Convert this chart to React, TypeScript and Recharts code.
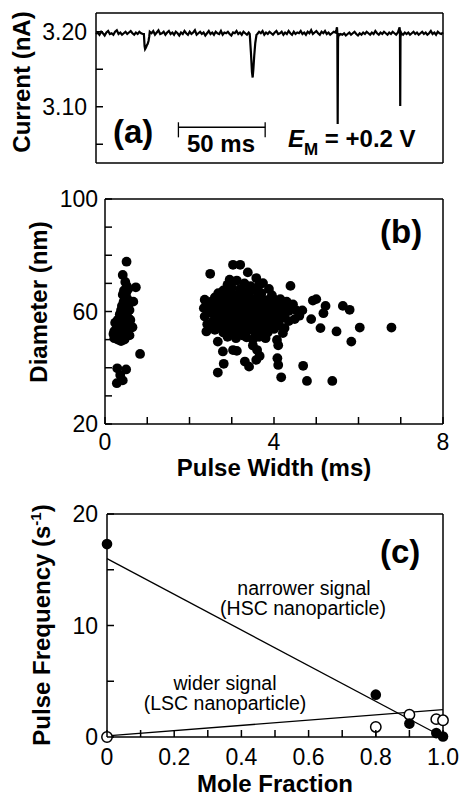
import React from 'react';
import { LineChart, Line, XAxis, YAxis, ScatterChart, Scatter, ReferenceLine, ErrorBar } from 'recharts';

const FONT = '"Liberation Sans", Arial, Helvetica, sans-serif';

// ---------- Panel (a): current trace ----------
const TRACE_BASE: number[] = [
  3.197, 3.199, 3.196, 3.200, 3.198, 3.195, 3.199, 3.201, 3.197, 3.198, 3.196, 3.200, 3.202, 3.197, 3.199, 3.196, 3.198, 3.200, 3.197, 3.199,
  3.201, 3.198, 3.196, 3.199, 3.197, 3.200, 3.198, 3.197, 3.196, 3.199, 3.197, 3.200, 3.198, 3.201, 3.196, 3.199, 3.202, 3.197, 3.198, 3.200,
  3.196, 3.199, 3.201, 3.197, 3.199, 3.196, 3.200, 3.198, 3.195, 3.199, 3.197, 3.201, 3.198, 3.196, 3.200, 3.197, 3.199, 3.202, 3.196, 3.198,
  3.200, 3.197, 3.199, 3.195, 3.198, 3.201, 3.197, 3.199, 3.196, 3.200, 3.198, 3.197, 3.201, 3.196, 3.199, 3.198, 3.200, 3.197, 3.195, 3.199,
  3.198, 3.201, 3.197, 3.199, 3.196, 3.200, 3.198, 3.196, 3.199, 3.197, 3.198, 3.196, 3.199, 3.197, 3.200, 3.198, 3.201, 3.196, 3.199, 3.197,
  3.200, 3.198, 3.196, 3.199, 3.201, 3.197, 3.198, 3.200, 3.196, 3.199, 3.197, 3.201, 3.198, 3.196, 3.200, 3.197, 3.199, 3.198, 3.201, 3.197,
  3.199, 3.196, 3.200, 3.198, 3.202, 3.197, 3.199, 3.201, 3.198, 3.196, 3.200, 3.198, 3.201, 3.197, 3.199, 3.196, 3.198, 3.200, 3.199, 3.197,
  3.195, 3.197, 3.196, 3.198, 3.195, 3.197, 3.199, 3.196, 3.198, 3.200, 3.197, 3.195, 3.198, 3.196, 3.199, 3.197, 3.200, 3.198, 3.196, 3.199,
  3.197, 3.201, 3.198, 3.196, 3.199, 3.197, 3.200, 3.198, 3.196, 3.199, 3.197, 3.200, 3.198, 3.196, 3.199, 3.197, 3.198, 3.196, 3.199, 3.197,
  3.199, 3.196, 3.198, 3.200, 3.197, 3.199, 3.196, 3.198, 3.200, 3.197, 3.199, 3.196, 3.198, 3.201, 3.197, 3.199, 3.196, 3.200, 3.198, 3.197, 3.199,
];
const EVENT_WINDOWS: [number, number][] = [[27.5, 31], [88.5, 93], [138.5, 140], [174.5, 176]];
const EVENT_POINTS: [number, number][] = [
  [27.6, 3.197], [28.0, 3.181], [28.3, 3.177], [28.8, 3.179], [29.3, 3.182], [29.8, 3.184], [30.3, 3.188], [30.7, 3.194],
  [88.6, 3.197], [89.3, 3.172], [89.9, 3.146], [90.3, 3.139], [90.7, 3.150], [91.2, 3.168], [91.8, 3.185], [92.5, 3.196],
  [138.6, 3.203], [138.9, 3.206], [139.1, 3.198], [139.3, 3.077], [139.5, 3.190], [139.8, 3.198],
  [174.7, 3.204], [175.0, 3.206], [175.2, 3.198], [175.35, 3.101], [175.5, 3.192], [175.8, 3.199],
];
const traceData = [
  ...TRACE_BASE.map((i, t) => ({ t, i })).filter((p) => !EVENT_WINDOWS.some(([a, b]) => p.t > a && p.t < b)),
  ...EVENT_POINTS.map(([t, i]) => ({ t, i })),
].sort((a, b) => a.t - b.t);

const A_X_DOMAIN: [number, number] = [0, 200];
const A_Y_DOMAIN: [number, number] = [3.025, 3.225];
const A_Y_TICKS = [3.05, 3.1, 3.15, 3.2];
const A_Y_LABELS = [{ v: 3.1, s: '3.10' }, { v: 3.2, s: '3.20' }];
const SCALE_BAR_T = [47.5, 97.5];
const SCALE_BAR_I = [3.0727, 3.0793, 3.0592]; // bar level, cap top, cap bottom

// ---------- Panel (b): diameter vs pulse width ----------
const leftCluster: [number, number][] = [
  [0.51, 77.7], [0.42, 73.0], [0.73, 68.6], [0.48, 70.5], [0.52, 69.0], [0.45, 67.5], [0.55, 68.0], [0.50, 66.5], [0.42, 66.0],
  [0.47, 65.0], [0.53, 64.5], [0.67, 63.5], [0.44, 63.5], [0.50, 63.0], [0.40, 62.0], [0.47, 61.5], [0.55, 62.0], [0.38, 60.5],
  [0.45, 60.0], [0.52, 59.5], [0.58, 60.5], [0.35, 59.0], [0.42, 58.5], [0.50, 58.0], [0.56, 57.5], [0.30, 57.0], [0.38, 56.5],
  [0.46, 56.0], [0.53, 56.0], [0.28, 55.5], [0.35, 55.0], [0.42, 54.5], [0.49, 54.5], [0.65, 54.4], [0.57, 54.0], [0.27, 53.5],
  [0.33, 53.0], [0.40, 52.5], [0.47, 52.5], [0.55, 53.0], [0.28, 51.5], [0.35, 51.0], [0.43, 51.0], [0.30, 50.0], [0.38, 49.5],
  [0.46, 50.0], [0.22, 50.5], [0.22, 53.0], [0.24, 56.0], [0.20, 52.0], [0.60, 57.0], [0.58, 51.5],
  [0.83, 44.9], [0.29, 39.8], [0.50, 39.4], [0.36, 37.4], [0.28, 34.5], [0.42, 35.5],
];
const mainCluster: [number, number][] = [
  [2.8, 67.5], [3.0, 68.5], [3.2, 68.0], [3.35, 67.0], [3.55, 67.5], [2.95, 71.3], [3.12, 71.0], [3.03, 76.6], [3.2, 76.6], [2.49, 73.4],
  [3.38, 73.9], [3.58, 71.9], [3.74, 70.1], [3.88, 68.0], [4.39, 69.1], [3.3, 70.0], [2.9, 69.5], [3.45, 69.0], [3.65, 69.5],
  [2.6, 65.0], [2.75, 64.5], [2.9, 65.5], [3.05, 64.8], [3.25, 65.2], [3.45, 64.5], [3.6, 65.0], [3.8, 64.0], [4.0, 64.3], [4.15, 64.4], [2.36, 64.2], [4.3, 63.5],
  [2.68, 66.5], [2.98, 66.8], [3.15, 66.2], [3.4, 66.3], [3.7, 66.5], [3.95, 65.8],
  [2.45, 62.0], [2.6, 62.5], [2.8, 61.8], [2.95, 62.8], [3.1, 62.0], [3.25, 62.5], [3.4, 61.5], [3.55, 62.5], [3.7, 61.8], [3.85, 62.3], [4.0, 61.5], [4.2, 62.0], [4.4, 61.8], [2.34, 61.2],
  [2.52, 63.5], [2.72, 63.2], [2.88, 63.7], [3.02, 63.3], [3.18, 63.8], [3.33, 63.4], [3.5, 63.6], [3.65, 63.3], [3.92, 63.2], [4.1, 62.9],
  [2.5, 59.5], [2.65, 58.5], [2.8, 59.8], [2.95, 58.7], [3.1, 59.5], [3.3, 58.5], [3.45, 59.8], [3.6, 58.8], [3.75, 59.5], [3.9, 58.5], [4.05, 59.5], [4.25, 58.8], [4.53, 60.4], [4.67, 60.4], [2.36, 58.2],
  [2.58, 60.8], [2.73, 60.5], [2.88, 61.0], [3.03, 60.6], [3.18, 60.9], [3.36, 60.3], [3.52, 60.8], [3.68, 60.4], [3.83, 60.8], [3.98, 60.3], [4.15, 60.6], [4.35, 60.2],
  [2.55, 56.5], [2.7, 55.5], [2.85, 56.8], [3.0, 55.8], [3.15, 56.5], [3.3, 55.3], [3.45, 56.5], [3.6, 55.5], [3.75, 56.8], [3.9, 55.8], [4.1, 56.5], [4.49, 57.3], [2.42, 55.5],
  [2.62, 57.6], [2.78, 57.3], [2.92, 57.8], [3.08, 57.4], [3.22, 57.7], [3.38, 57.2], [3.53, 57.6], [3.68, 57.3], [3.83, 57.6], [3.98, 57.2], [4.18, 57.6], [4.35, 56.6],
  [2.4, 52.9], [2.6, 53.5], [2.8, 52.5], [3.0, 53.5], [3.2, 52.8], [3.4, 53.5], [3.55, 52.5], [3.7, 53.3], [3.85, 52.5], [4.0, 53.8], [4.25, 54.1], [4.21, 52.3],
  [2.5, 54.6], [2.72, 54.2], [2.9, 54.7], [3.1, 54.3], [3.28, 54.5], [3.5, 54.3], [3.65, 54.7], [3.8, 54.2], [3.95, 54.8], [4.12, 55.0],
  [2.67, 49.3], [2.9, 51.0], [3.1, 50.5], [3.35, 50.8], [3.5, 50.0], [3.65, 51.0], [4.07, 49.9], [4.1, 48.0], [3.8, 50.5], [3.0, 51.8], [3.25, 51.5],
  [2.79, 45.8], [3.03, 46.3], [3.12, 46.0], [3.5, 47.9], [3.6, 46.3], [3.66, 44.2], [3.58, 42.8], [3.31, 42.2], [3.41, 40.4], [2.81, 41.4],
  [2.67, 38.3], [4.08, 43.4], [4.1, 41.0], [4.17, 36.6], [4.69, 40.7], [4.78, 35.3], [5.38, 35.3],
  [4.92, 63.9], [5.0, 64.4], [5.22, 62.0], [5.17, 59.4], [5.63, 62.0], [5.79, 60.6], [4.88, 57.3], [5.1, 54.1], [5.48, 52.9], [6.03, 54.3],
  [6.78, 54.3], [5.83, 49.3], [4.6, 58.5], [4.45, 62.5],
];
const scatterData = [...leftCluster, ...mainCluster].map(([x, y]) => ({ x, y }));
const B_X_TICKS = [0, 1, 2, 3, 4, 5, 6, 7, 8];
const B_X_LABELS = [{ v: 0, s: '0' }, { v: 4, s: '4' }, { v: 8, s: '8' }];
const B_Y_TICKS = [20, 30, 40, 50, 60, 70, 80, 90, 100];
const B_Y_LABELS = [{ v: 20, s: '20' }, { v: 60, s: '60' }, { v: 100, s: '100' }];

// ---------- Panel (c): pulse frequency vs mole fraction ----------
const moleFraction = [0, 0.8, 0.9, 0.98, 1.0];
const narrowFreq = [17.3, 3.8, 1.2, 0.35, 0.05];
const wideFreq = [0, 0.9, 2.0, 1.6, 1.5];
const wideErrLow = [0, 0.9, 0, 0, 0];
const fitNarrow = [{ x: 0, y: 16.0 }, { x: 1.0, y: 0.0 }];
const fitWide = [{ x: 0, y: 0.1 }, { x: 1.0, y: 2.45 }];
const narrowData = moleFraction.map((x, k) => ({ x, y: narrowFreq[k] }));
const wideData = moleFraction.map((x, k) => ({ x, y: wideFreq[k], err: [wideErrLow[k], 0] }));
const C_X_TICKS = [0, 0.1, 0.2, 0.3, 0.4, 0.5, 0.6, 0.7, 0.8, 0.9, 1.0];
const C_X_LABELS = [
  { v: 0, s: '0' }, { v: 0.2, s: '0.2' }, { v: 0.4, s: '0.4' }, { v: 0.6, s: '0.6' }, { v: 0.8, s: '0.8' }, { v: 1.0, s: '1.0' },
];
const C_Y_TICKS = [0, 5, 10, 15, 20];
const C_Y_LABELS = [{ v: 0, s: '0' }, { v: 10, s: '10' }, { v: 20, s: '20' }];

// ---------- helpers ----------
type Side = 'left' | 'right' | 'top' | 'bottom';
function makeTick(side: Side, labels: { v: number; s: string }[], len = 7, offset = 9, fontSize = 23) {
  return function TickMark(props: any) {
    const { x, y, payload } = props;
    const v = payload?.value;
    const lab = labels.find((l) => Math.abs(l.v - v) < 1e-9);
    let line: any = null;
    if (side === 'left') line = <line x1={x} y1={y} x2={x + len} y2={y} />;
    if (side === 'right') line = <line x1={x} y1={y} x2={x - len} y2={y} />;
    if (side === 'bottom') line = <line x1={x} y1={y} x2={x} y2={y - len} />;
    if (side === 'top') line = <line x1={x} y1={y} x2={x} y2={y + len} />;
    let text: any = null;
    if (lab && side === 'left') {
      text = (
        <text x={x - offset} y={y} dy="0.36em" textAnchor="end" fill="#000" stroke="none" fontFamily={FONT} fontSize={fontSize}>
          {lab.s}
        </text>
      );
    }
    if (lab && side === 'bottom') {
      text = (
        <text x={x} y={y + offset} textAnchor="middle" fill="#000" stroke="none" fontFamily={FONT} fontSize={fontSize}>
          {lab.s}
        </text>
      );
    }
    return (
      <g stroke="#000" strokeWidth={1.5}>
        {line}
        {text}
      </g>
    );
  };
}

const axisLine = { stroke: '#000', strokeWidth: 1.5 };

const dotB = (p: any) => <circle cx={p.cx} cy={p.cy} r={4.9} fill="#000" />;
const dotFilled = (p: any) => <circle cx={p.cx} cy={p.cy} r={5.3} fill="#000" />;
const dotOpen = (p: any) => <circle cx={p.cx} cy={p.cy} r={5.2} fill="#fff" stroke="#000" strokeWidth={1.5} />;
const noDot = () => <g />;

const titleStyle: React.CSSProperties = { fontFamily: FONT, fontWeight: 'bold', fontSize: 24, fill: '#000' } as any;

export default function App() {
  return (
    <div style={{ position: 'absolute', left: 0, top: 0, width: 459, height: 796, background: '#fff', overflow: 'hidden' }}>
      {/* Panel a */}
      <div style={{ position: 'absolute', left: 0, top: 0 }}>
        <LineChart width={459} height={175} data={traceData} margin={{ top: 12, right: 15, bottom: 11, left: 0 }}>
          <XAxis dataKey="t" type="number" domain={A_X_DOMAIN} height={1} tick={false} tickLine={false} axisLine={axisLine} />
          <XAxis xAxisId="top" orientation="top" type="number" domain={A_X_DOMAIN} height={1} tick={false} tickLine={false} axisLine={axisLine} />
          <YAxis type="number" domain={A_Y_DOMAIN} ticks={A_Y_TICKS} width={96} interval={0} tickLine={false} tickSize={0} tickMargin={0} axisLine={axisLine} tick={makeTick('left', A_Y_LABELS, 7, 9)} />
          <YAxis yAxisId="right" orientation="right" type="number" domain={A_Y_DOMAIN} ticks={A_Y_TICKS} width={1} interval={0} tickLine={false} tickSize={0} tickMargin={0} axisLine={axisLine} tick={makeTick('right', [])} />
          <Line dataKey="i" type="linear" stroke="#000" strokeWidth={2.2} dot={false} isAnimationActive={false} />
          <ReferenceLine segment={[{ x: SCALE_BAR_T[0], y: SCALE_BAR_I[0] }, { x: SCALE_BAR_T[1], y: SCALE_BAR_I[0] }]} stroke="#000" strokeWidth={1.3} />
          <ReferenceLine segment={[{ x: SCALE_BAR_T[0], y: SCALE_BAR_I[1] }, { x: SCALE_BAR_T[0], y: SCALE_BAR_I[2] }]} stroke="#000" strokeWidth={1.3} />
          <ReferenceLine segment={[{ x: SCALE_BAR_T[1], y: SCALE_BAR_I[1] }, { x: SCALE_BAR_T[1], y: SCALE_BAR_I[2] }]} stroke="#000" strokeWidth={1.3} />
        </LineChart>
      </div>

      {/* Panel b */}
      <div style={{ position: 'absolute', left: 0, top: 180 }}>
        <ScatterChart width={459} height={300} margin={{ top: 18, right: 15, bottom: 55, left: 0 }}>
          <XAxis dataKey="x" type="number" domain={[0, 8]} ticks={B_X_TICKS} height={1} interval={0} tickLine={false} tickSize={0} tickMargin={0} axisLine={axisLine} tick={makeTick('bottom', B_X_LABELS, 7, 26)} />
          <XAxis xAxisId="top" orientation="top" type="number" domain={[0, 8]} ticks={B_X_TICKS} height={1} interval={0} tickLine={false} tickSize={0} tickMargin={0} axisLine={axisLine} tick={makeTick('top', [])} />
          <YAxis dataKey="y" type="number" domain={[20, 100]} ticks={B_Y_TICKS} width={105} interval={0} tickLine={false} tickSize={0} tickMargin={0} axisLine={axisLine} tick={makeTick('left', B_Y_LABELS, 7, 7)} />
          <YAxis yAxisId="right" orientation="right" type="number" domain={[20, 100]} ticks={B_Y_TICKS} width={1} interval={0} tickLine={false} tickSize={0} tickMargin={0} axisLine={axisLine} tick={makeTick('right', [])} />
          <Scatter data={scatterData} shape={dotB} isAnimationActive={false} />
        </ScatterChart>
      </div>

      {/* Panel c */}
      <div style={{ position: 'absolute', left: 0, top: 490 }}>
        <ScatterChart width={459} height={306} margin={{ top: 23, right: 15, bottom: 58, left: 0 }}>
          <XAxis dataKey="x" type="number" domain={[0, 1]} ticks={C_X_TICKS} height={1} interval={0} tickLine={false} tickSize={0} tickMargin={0} axisLine={axisLine} tick={makeTick('bottom', C_X_LABELS, 7, 28)} />
          <XAxis xAxisId="top" orientation="top" type="number" domain={[0, 1]} ticks={C_X_TICKS} height={1} interval={0} tickLine={false} tickSize={0} tickMargin={0} axisLine={axisLine} tick={makeTick('top', [])} />
          <YAxis dataKey="y" type="number" domain={[0, 20]} ticks={C_Y_TICKS} width={107} interval={0} tickLine={false} tickSize={0} tickMargin={0} axisLine={axisLine} tick={makeTick('left', C_Y_LABELS, 7, 9)} />
          <YAxis yAxisId="right" orientation="right" type="number" domain={[0, 20]} ticks={C_Y_TICKS} width={1} interval={0} tickLine={false} tickSize={0} tickMargin={0} axisLine={axisLine} tick={makeTick('right', [])} />
          <Scatter data={fitNarrow} line={{ stroke: '#000', strokeWidth: 1.3 }} shape={noDot} isAnimationActive={false} />
          <Scatter data={fitWide} line={{ stroke: '#000', strokeWidth: 1.3 }} shape={noDot} isAnimationActive={false} />
          <Scatter data={wideData} shape={dotOpen} isAnimationActive={false}>
            <ErrorBar dataKey="err" direction="y" width={0} stroke="#000" strokeWidth={1.5} />
          </Scatter>
          <Scatter data={narrowData} shape={dotFilled} isAnimationActive={false} />
        </ScatterChart>
      </div>

      {/* Text overlay */}
      <svg width={459} height={796} style={{ position: 'absolute', left: 0, top: 0, pointerEvents: 'none' }}>
        {/* Panel a */}
        <text transform="translate(29.5,82) rotate(-90)" textAnchor="middle" style={titleStyle}>Current (nA)</text>
        <text x={113} y={143} style={{ ...titleStyle, fontSize: 33 } as any}>(a)</text>
        <text x={221} y={152} textAnchor="middle" style={titleStyle}>50 ms</text>
        <text x={288} y={147} style={{ ...titleStyle, whiteSpace: 'pre' } as any}>
          <tspan fontStyle="italic">E</tspan>
          <tspan dy={8} fontSize={17}>M</tspan>
          <tspan dy={-8}> = +0.2 V</tspan>
        </text>
        {/* Panel b */}
        <text transform="translate(47,302) rotate(-90)" textAnchor="middle" style={titleStyle}>Diameter (nm)</text>
        <text x={274} y={476} textAnchor="middle" style={titleStyle}>Pulse Width (ms)</text>
        <text x={380} y={243} style={{ ...titleStyle, fontSize: 33 } as any}>(b)</text>
        {/* Panel c */}
        <text transform="translate(50,625) rotate(-90)" textAnchor="middle" style={{ ...titleStyle, whiteSpace: 'pre' } as any}>
          Pulse Frequency (s<tspan dy={-9} fontSize={15}>-1</tspan><tspan dy={9}>)</tspan>
        </text>
        <text x={275} y={792} textAnchor="middle" style={titleStyle}>Mole Fraction</text>
        <text x={380} y={563} style={{ ...titleStyle, fontSize: 33 } as any}>(c)</text>
        <g style={{ fontFamily: FONT, fontSize: 19.5, fill: '#000' } as any}>
          <text x={304} y={595} textAnchor="middle">narrower signal</text>
          <text x={303} y={615} textAnchor="middle">(HSC nanoparticle)</text>
          <text x={225} y={690} textAnchor="middle">wider signal</text>
          <text x={225} y={710} textAnchor="middle">(LSC nanoparticle)</text>
        </g>
      </svg>
    </div>
  );
}
